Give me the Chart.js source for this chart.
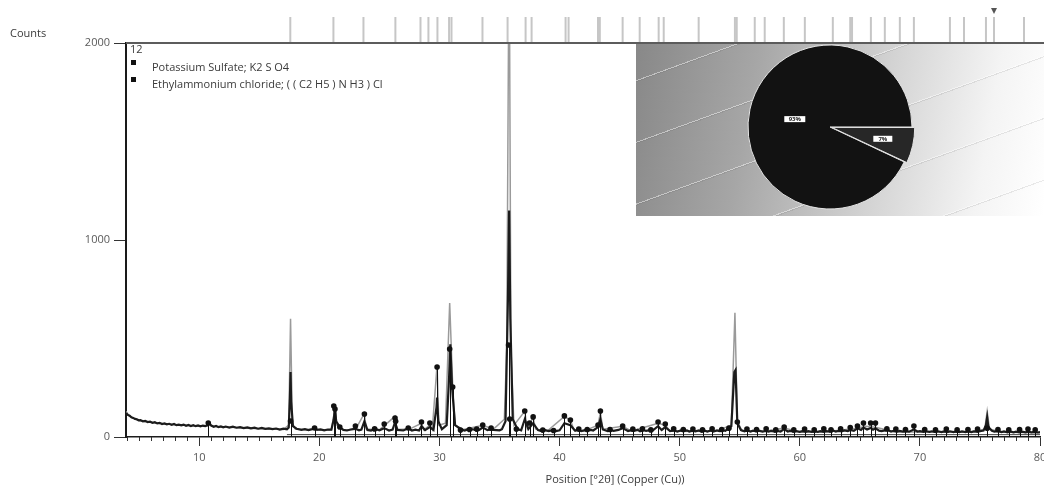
<!DOCTYPE html>
<html lang="en">
<head>
<meta charset="UTF-8">
<title>XRD pattern - K2SO4 / Ethylammonium chloride</title>
<script src="https://cdn.jsdelivr.net/npm/chart.js"></script>
<style>
  body { margin: 0; background: #fff; font-family: 'Open Sans', 'Noto Sans', sans-serif; }
  #wrap { position: relative; width: 1044px; height: 488px; }
  .txt { position: absolute; font-size: 11px; color: #3a3a3a; white-space: nowrap; line-height: 12px; }
  .key { position: absolute; width: 5px; height: 5px; background: #111; }
  #inset {
    position: absolute; left: 636px; top: 44px; width: 408px; height: 172px;
    background:
      repeating-linear-gradient(160deg, rgba(255,255,255,0) 0 34px, rgba(255,255,255,.45) 34px 35px, rgba(80,80,80,.12) 35px 36px, rgba(255,255,255,0) 36px 58px),
      linear-gradient(100deg, #888 0%, #a6a6a6 28%, #d4d4d4 60%, #f4f4f4 84%, #fff 100%);
  }
</style>
</head>
<body>
<div id="wrap">
  <canvas id="xrd" width="1044" height="488"></canvas>
  <div id="inset"><canvas id="phase" width="408" height="172"></canvas></div>
  <div class="txt" style="left:10px;top:27px">Counts</div>
  <div class="txt" style="left:130px;top:43px">12</div>
  <div class="key" style="left:131px;top:60px"></div>
  <div class="key" style="left:131px;top:77px"></div>
  <div class="txt" id="name0" style="left:152px;top:61px"></div>
  <div class="txt" id="name1" style="left:152px;top:78px"></div>
  <div class="txt" style="left:615px;top:473px;transform:translateX(-50%)">Position [°2θ] (Copper (Cu))</div>
</div>

<script>
// phases found in the sample and their share (%)
const phaseNames = ['Potassium Sulfate; K2 S O4', 'Ethylammonium chloride; ( ( C2 H5 ) N H3 ) Cl'];
const phaseShares = [93, 7];

// axis ticks
const xTickValues = [10, 20, 30, 40, 50, 60, 70, 80];
const yTickValues = [0, 1000, 2000];

// measured scan [2theta, counts]
const measured = [
  [3.9,130],[4.1,112],[4.4,98],[4.8,88],[5.3,80],[6,73],[7,67],[8,62],[9,58],[10,55],[10.7,56],[10.85,72],[11,56],
  [12,51],[13,48],[14,45],[15,42],[16,40],[17,38],[17.45,60],[17.6,600],[17.75,70],[18,40],[19,37],[19.6,45],[20,35],
  [21,36],[21.2,110],[21.3,165],[21.45,60],[22,35],[23,38],[23.75,120],[23.9,40],[25,36],[26.3,105],[26.45,38],
  [27.5,40],[28.5,70],[28.7,36],[29.2,60],[29.4,38],[29.8,365],[29.95,60],[30.5,70],[30.85,680],[31.1,260],[31.3,60],
  [32,38],[33.6,60],[34.5,40],[35.4,90],[35.6,450],[35.8,2600],[35.95,450],[36.2,60],[37.1,130],[37.3,45],[37.8,100],
  [38,40],[39,32],[40.4,105],[40.9,85],[41.2,35],[42,30],[43.2,60],[43.4,125],[43.6,40],[45.25,55],[46,30],[48.2,70],
  [48.8,60],[49.2,30],[51,28],[53,30],[54.3,60],[54.6,630],[54.8,80],[55.2,30],[57,28],[58.7,45],[60,25],[62,26],
  [64.8,45],[65.5,55],[66.3,50],[68,26],[70,25],[72,24],[74,24],[75.4,40],[75.6,130],[75.8,40],[77,24],[80,22]
];

// calculated profile [2theta, counts]
const profile = [
  [3.9,122],[4.05,112],[4.2,108],[4.35,100],[4.5,97],[4.65,92],[4.8,90],[4.95,85],[5.1,86],[5.3,80],[5.5,82],[5.7,76],
  [5.9,78],[6.1,72],[6.3,75],[6.5,69],[6.7,72],[6.9,66],[7.1,69],[7.3,64],[7.5,67],[7.7,62],[7.9,66],[8.1,60],
  [8.3,63],[8.5,59],[8.7,63],[8.9,57],[9.1,61],[9.3,56],[9.5,60],[9.7,55],[9.9,59],[10.1,54],[10.3,58],[10.5,55],
  [10.7,60],[10.85,70],[11.0,58],[11.2,52],[11.4,56],[11.6,50],[11.8,54],[12,49],[12.2,53],[12.5,48],[12.8,52],
  [13.1,47],[13.4,50],[13.7,45],[14,49],[14.3,44],[14.6,47],[14.9,42],[15.2,46],[15.5,41],[15.8,44],[16.1,40],
  [16.4,43],[16.7,38],[17,42],[17.3,39],[17.45,48],[17.55,200],[17.6,330],[17.65,180],[17.8,55],[18.1,42],[18.5,36],
  [18.8,40],[19.1,35],[19.4,39],[19.6,48],[19.8,36],[20.1,39],[20.4,34],[20.7,38],[21,37],[21.2,90],[21.3,150],
  [21.4,80],[21.7,50],[22,36],[22.3,33],[22.6,38],[23,42],[23.3,34],[23.5,38],[23.75,80],[24,36],[24.3,33],[24.6,42],
  [25,34],[25.4,45],[25.8,33],[26.1,38],[26.3,75],[26.5,36],[27,33],[27.4,44],[27.7,33],[28,37],[28.3,33],[28.5,55],
  [28.8,35],[29.2,50],[29.5,36],[29.75,150],[29.8,200],[29.9,80],[30.2,40],[30.6,60],[30.8,300],[30.9,470],[31.05,250],
  [31.3,60],[31.8,38],[32.1,33],[32.3,37],[32.8,39],[33.1,32],[33.3,36],[33.6,48],[34,35],[34.3,40],[34.5,36],[35,34],
  [35.2,40],[35.5,80],[35.7,700],[35.8,1150],[35.9,600],[36.1,90],[36.5,40],[36.8,34],[37.1,90],[37.4,40],[37.8,70],
  [38.2,35],[38.5,30],[38.8,35],[39.1,30],[39.4,35],[39.7,30],[40,34],[40.4,70],[40.9,60],[41.3,32],[41.6,37],[41.8,30],
  [42.1,35],[42.3,31],[42.6,36],[42.8,33],[43.2,50],[43.4,90],[43.6,38],[44,30],[44.3,35],[44.5,31],[44.9,36],[45.25,45],
  [45.7,30],[46,35],[46.2,31],[46.5,36],[46.7,29],[47,34],[47.2,31],[47.5,35],[47.7,30],[48.2,55],[48.5,36],[48.8,50],
  [49.2,30],[49.5,34],[49.8,28],[50.1,33],[50.3,30],[50.6,34],[50.8,28],[51.1,33],[51.3,29],[51.6,33],[51.8,27],
  [52.1,32],[52.3,28],[52.6,33],[52.8,28],[53.1,33],[53.3,30],[53.6,34],[53.8,31],[54.3,55],[54.55,330],[54.65,340],
  [54.8,70],[55.1,35],[55.4,29],[55.6,33],[55.9,28],[56.1,32],[56.4,28],[56.6,32],[56.9,27],[57.1,31],[57.4,27],
  [57.6,31],[57.9,27],[58.1,31],[58.4,28],[58.7,40],[59,28],[59.2,31],[59.5,27],[59.7,30],[60,26],[60.2,30],[60.5,26],
  [60.7,30],[61,26],[61.2,29],[61.5,26],[61.7,30],[62,26],[62.2,30],[62.5,27],[62.7,34],[63,28],[63.2,31],[63.5,28],
  [63.7,33],[64,30],[64.2,36],[64.5,31],[64.8,44],[65.1,36],[65.3,48],[65.6,38],[65.9,46],[66.1,37],[66.3,44],[66.6,32],
  [66.8,30],[67.1,34],[67.3,36],[67.6,28],[67.8,31],[68.1,27],[68.3,31],[68.6,27],[68.8,30],[69.1,27],[69.5,38],
  [69.8,28],[70,30],[70.3,26],[70.5,29],[70.8,26],[71,29],[71.3,25],[71.5,29],[71.8,25],[72,28],[72.3,25],[72.5,29],
  [72.8,25],[73,28],[73.3,25],[73.5,28],[73.8,25],[74,28],[74.3,25],[74.5,28],[74.8,26],[75,29],[75.3,33],[75.5,60],
  [75.6,100],[75.7,50],[76,32],[76.2,27],[76.5,30],[76.8,25],[77,28],[77.3,24],[77.5,28],[77.8,24],[78,27],[78.3,24],
  [78.5,27],[78.8,24],[79,27],[79.3,24],[79.5,26],[79.8,23],[80,25]
];

// background line [2theta, counts]
const background = [[17.3,12],[80,12]];

// peak list [2theta, counts]
const peakMarkers = [
  [10.75,71],[17.6,81],[19.6,46],[21.2,157],[21.3,142],[21.7,51],[23.0,56],[23.75,117],[24.6,41],[25.4,66],[26.3,96],
  [26.35,80],[27.4,46],[28.5,76],[29.2,71],[29.8,355],[30.85,447],[31.1,254],[31.75,35],[32.5,38],[33.1,40],[33.6,61],
  [34.3,45],[35.75,467],[35.85,91],[36.4,40],[37.1,132],[37.5,71],[37.8,102],[38.6,35],[39.5,33],[40.4,107],[40.9,86],
  [41.6,40],[42.3,38],[43.2,61],[43.4,132],[44.2,38],[45.25,56],[46.1,40],[46.9,42],[47.6,36],[48.2,76],[48.8,66],
  [49.5,42],[50.3,38],[51.1,40],[51.9,36],[52.7,42],[53.5,38],[54.1,45],[54.8,76],[55.6,40],[56.4,38],[57.2,42],
  [58.0,36],[58.7,51],[59.5,36],[60.4,40],[61.2,36],[62.0,42],[62.6,36],[63.4,42],[64.2,48],[64.8,56],[65.3,71],
  [65.9,71],[66.3,71],[67.25,41],[68.0,40],[68.8,38],[69.5,56],[70.4,38],[71.3,36],[72.2,40],[73.1,36],[74.0,38],
  [74.8,40],[75.6,45],[76.5,38],[77.4,36],[78.3,38],[79.0,40],[79.6,36]
];

// reference pattern lines shown above the plot
const refLines = [17.58, 21.17, 23.67, 26.33, 28.42, 29.08, 29.83, 30.8, 31.0, 33.58, 35.67, 37.17, 37.67, 40.5, 40.75,
  43.2, 43.35, 45.25, 46.67, 48.25, 48.67, 51.58, 54.6, 54.75, 56.25, 57.08, 58.67, 60.42, 62.75, 64.2, 64.35, 65.92,
  67.08, 68.33, 69.5, 72.5, 73.67, 75.5, 76.17, 78.67];
const selectedLine = 76.17;

document.getElementById('name0').textContent = phaseNames[0];
document.getElementById('name1').textContent = phaseNames[1];

const pts = arr => arr.map(([x, y]) => ({x, y}));

Chart.defaults.font.family = "'Open Sans', 'Noto Sans', sans-serif";
Chart.defaults.font.size = 11;
Chart.defaults.color = '#555';

// stems under the peak markers, reference lines, frame and minor ticks
const xrdDecor = {
  id: 'xrdDecor',
  beforeDatasetDraw(chart, args) {
    if (args.index !== 3) return;
    const {ctx, scales: {x, y}} = chart;
    ctx.save();
    ctx.strokeStyle = '#111';
    ctx.lineWidth = 1;
    ctx.beginPath();
    peakMarkers.forEach(([t, c]) => {
      const px = Math.round(x.getPixelForValue(t)) + 0.5;
      ctx.moveTo(px, y.getPixelForValue(0));
      ctx.lineTo(px, y.getPixelForValue(c));
    });
    ctx.stroke();
    ctx.restore();
  },
  afterDraw(chart) {
    const {ctx, chartArea: a, scales: {x}} = chart;
    ctx.save();
    ctx.strokeStyle = '#c6c6c6';
    ctx.lineWidth = 2;
    refLines.forEach(t => {
      const px = x.getPixelForValue(t);
      ctx.beginPath();
      ctx.moveTo(px, 17);
      ctx.lineTo(px, a.top - 1);
      ctx.stroke();
    });
    // selected line flag
    const sx = x.getPixelForValue(selectedLine);
    ctx.fillStyle = '#555';
    ctx.beginPath();
    ctx.moveTo(sx - 3, 8);
    ctx.lineTo(sx + 3, 8);
    ctx.lineTo(sx, 14);
    ctx.closePath();
    ctx.fill();
    // top frame
    ctx.strokeStyle = '#5c5c5c';
    ctx.lineWidth = 2;
    ctx.beginPath();
    ctx.moveTo(a.left, a.top);
    ctx.lineTo(chart.width, a.top);
    ctx.stroke();
    // minor ticks every degree
    ctx.strokeStyle = '#333';
    ctx.lineWidth = 1;
    ctx.beginPath();
    for (let t = 4; t <= 80; t++) {
      if (t % 10 === 0) continue;
      const px = Math.round(x.getPixelForValue(t)) + 0.5;
      ctx.moveTo(px, a.bottom);
      ctx.lineTo(px, a.bottom + 4);
    }
    ctx.stroke();
    ctx.restore();
  }
};

new Chart(document.getElementById('xrd'), {
  type: 'line',
  data: {
    datasets: [
      { label: 'Measured', data: pts(measured), borderColor: '#9a9a9a', borderWidth: 1.5, pointRadius: 0, order: 3 },
      { label: 'Profile', data: pts(profile), borderColor: '#1c1c1c', borderWidth: 2.2, pointRadius: 0, order: 1 },
      { label: 'Background', data: pts(background), borderColor: '#444', borderWidth: 1, pointRadius: 0, order: 2 },
      { label: 'Peaks', data: pts(peakMarkers), showLine: false, pointRadius: 2.8, pointBackgroundColor: '#111',
        pointBorderWidth: 0, order: 0 }
    ]
  },
  options: {
    responsive: false,
    devicePixelRatio: 1,
    animation: false,
    layout: { padding: { top: 43, right: 4, left: 0, bottom: 0 } },
    plugins: { legend: { display: false }, tooltip: { enabled: false } },
    elements: { line: { tension: 0 } },
    scales: {
      x: {
        type: 'linear', min: 3.9, max: 80,
        afterBuildTicks: s => { s.ticks = xTickValues.map(v => ({value: v})); },
        afterFit: s => { s.height = 51; s.paddingLeft = 0; s.paddingRight = 0; },
        grid: { display: true, drawOnChartArea: false, tickLength: 9, tickColor: '#333', tickWidth: 1 },
        border: { display: true, color: '#1c1c1c', width: 1.5 },
        ticks: { padding: 5, maxRotation: 0, autoSkip: false, color: '#5a5a5a', callback: v => String(v) }
      },
      y: {
        min: 0, max: 2000,
        afterBuildTicks: s => { s.ticks = yTickValues.map(v => ({value: v})); },
        afterFit: s => { s.width = 126; },
        grid: { display: true, drawOnChartArea: false, tickLength: 12, tickColor: '#333', tickWidth: 1 },
        border: { display: true, color: '#1a1a1a', width: 2 },
        ticks: { padding: 4, color: '#5a5a5a', callback: v => String(v) }
      }
    }
  },
  plugins: [xrdDecor]
});

// percentage boxes on the pie slices
const shareLabels = {
  id: 'shareLabels',
  afterDatasetsDraw(chart) {
    const {ctx} = chart;
    const arcs = chart.getDatasetMeta(0).data;
    ctx.save();
    ctx.font = 'bold 6px "Open Sans", sans-serif';
    ctx.textAlign = 'center';
    ctx.textBaseline = 'middle';
    arcs.forEach((arc, i) => {
      const {x, y, startAngle, endAngle, outerRadius} = arc.getProps(['x', 'y', 'startAngle', 'endAngle', 'outerRadius'], true);
      const mid = (startAngle + endAngle) / 2;
      const k = i === 0 ? 0.44 : 0.66;
      const cx = x + Math.cos(mid) * outerRadius * k;
      const cy = y + Math.sin(mid) * outerRadius * k;
      const w = i === 0 ? 21 : 19;
      ctx.fillStyle = '#fff';
      ctx.fillRect(cx - w / 2, cy - 3, w, 6);
      ctx.fillStyle = '#222';
      ctx.fillText(phaseShares[i] + '%', cx, cy + 0.5);
    });
    ctx.restore();
  }
};

new Chart(document.getElementById('phase'), {
  type: 'pie',
  data: {
    labels: phaseNames,
    datasets: [{
      data: phaseShares,
      backgroundColor: ['#121212', '#272727'],
      borderColor: '#e4e4e4',
      borderWidth: 1,
      offset: [0, 7]
    }]
  },
  options: {
    responsive: false,
    devicePixelRatio: 1,
    animation: false,
    radius: 82,
    rotation: 90 + phaseShares[1] * 3.6,
    layout: { padding: { right: 20, bottom: 6 } },
    plugins: { legend: { display: false }, tooltip: { enabled: false } }
  },
  plugins: [shareLabels]
});
</script>
</body>
</html>
